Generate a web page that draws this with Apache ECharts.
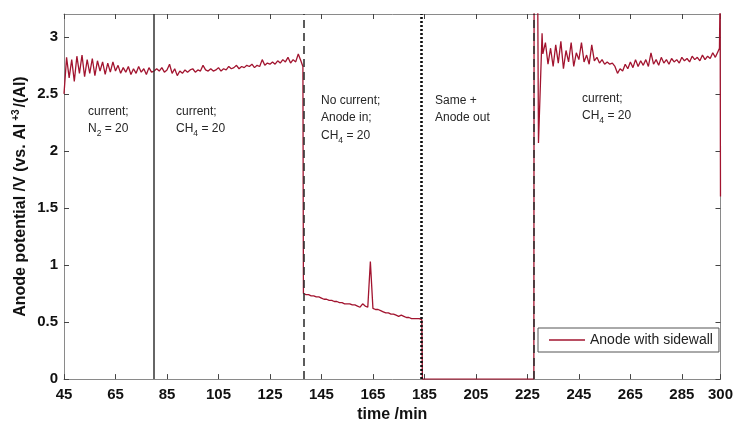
<!DOCTYPE html>
<html>
<head>
<meta charset="utf-8">
<script src="https://cdn.jsdelivr.net/npm/echarts@6/dist/echarts.min.js"></script>
<style>
html,body{margin:0;padding:0;background:#fff;}
#chart{width:736px;height:428px;}
</style>
</head>
<body>
<div id="chart"></div>
<script>
// ---- data ----
const time = [
  45,46,47,48,49,50,51,52,53,54,55,56,57,58,59,60,61,62,63,64,65,66,67,68,69,70,
  71,72,73,74,75,76,77,78,79,80,81,82,83,84,85,86,87,88,89,90,91,92,93,94,95,96,
  97,98,99,100,101,102,103,104,105,106,107,108,109,110,111,112,113,114,115,116,117,
  118,119,120,121,122,123,124,125,126,127,128,129,130,131,132,133,134,135,136,137,137.8,
  138,139,140,141,142,143,144,145,146,147,148,149,150,151,152,153,154,155,156,157,158,
  159,160,161,162,163,164,165,166,167,168,169,170,171,172,173,174,175,176,177,178,179,
  180,181,182,183,184,184.2,227.5,227.6,229.0,229.3,230.7,
  231,232,233,234,235,236,237,238,239,240,241,242,243,244,245,246,247,248,249,250,
  251,252,253,254,255,256,257,258,259,260,261,262,263,264,265,266,267,268,269,270,
  271,272,273,274,275,276,277,278,279,280,281,282,283,284,285,286,287,288,289,290,
  291,292,293,294,295,296,297,298,299,299.6,299.85,300
];
const potential = [
  2.50,2.82,2.64,2.80,2.61,2.83,2.68,2.84,2.65,2.80,2.68,2.81,2.66,2.79,2.70,2.78,2.67,2.77,2.69,2.78,2.70,2.75,2.68,2.73,2.69,2.74,
  2.67,2.72,2.68,2.74,2.69,2.72,2.67,2.73,2.69,2.70,2.72,2.70,2.73,2.69,2.71,2.76,2.68,2.72,2.66,2.70,2.68,2.71,2.69,2.71,2.72,2.69,
  2.71,2.70,2.75,2.71,2.70,2.72,2.70,2.71,2.73,2.70,2.72,2.71,2.74,2.72,2.73,2.75,2.72,2.74,2.73,2.75,2.74,
  2.76,2.73,2.75,2.74,2.80,2.75,2.77,2.76,2.78,2.76,2.79,2.77,2.80,2.78,2.82,2.77,2.80,2.78,2.85,2.79,2.74,
  0.75,0.74,0.74,0.73,0.73,0.72,0.72,0.71,0.70,0.70,0.69,0.69,0.68,0.68,0.67,0.67,0.66,0.66,0.66,0.65,0.65,
  0.64,0.63,0.66,0.64,0.63,1.03,0.62,0.61,0.61,0.60,0.59,0.58,0.58,0.57,0.57,0.56,0.55,0.56,0.55,0.54,0.54,
  0.53,0.53,0.53,0.53,0.52,0,0,3.4,3.4,2.07,3.03,
  2.85,2.95,2.76,2.90,2.74,2.93,2.77,2.96,2.72,2.88,2.78,2.95,2.74,2.86,2.80,2.95,2.78,2.84,2.76,2.93,
  2.79,2.82,2.77,2.80,2.76,2.78,2.76,2.77,2.74,2.68,2.72,2.70,2.76,2.72,2.78,2.73,2.80,2.74,2.79,2.75,
  2.80,2.74,2.86,2.76,2.80,2.75,2.82,2.77,2.80,2.76,2.81,2.78,2.80,2.77,2.82,2.79,2.81,2.78,2.83,2.80,
  2.82,2.79,2.84,2.80,2.83,2.81,2.86,2.82,2.87,2.90,3.4,1.60
];
const seriesName = 'Anode with sidewall';
const xTicks = [45,65,85,105,125,145,165,185,205,225,245,265,285,300];
const yTicks = [0,0.5,1,1.5,2,2.5,3];
const markerTimes = [80, 138.2, 183.6, 227.5];
const markerKinds = ['solid', 'dashed', 'dotted', 'dashed'];

const FONT = 'Liberation Sans, Arial, Helvetica, sans-serif';

const chart = echarts.init(document.getElementById('chart'), null, {renderer: 'canvas'});
const pts = time.map((t, i) => [t, potential[i]]);

const dashStyles = {
  solid: {type: 'solid', width: 1.5, color: '#333'},
  dashed: {type: [8, 5], width: 1.6, color: '#333'},
  dotted: {type: [2.2, 1.8], width: 2.6, color: '#111'}
};

const txt = (x, y, rich) => ({
  type: 'text', x: x, y: y, z: 50,
  style: {
    text: rich, fill: '#262626', fontSize: 12, fontFamily: FONT,
    align: 'left', verticalAlign: 'middle',
    rich: {
      m: {fontSize: 12, fontFamily: FONT, fill: '#262626'},
      s: {fontSize: 8.5, fontFamily: FONT, fill: '#262626', padding: [9, 0, 0, 0]}
    }
  }
});

const option = {
  animation: false,
  backgroundColor: '#fff',
  grid: {left: 64, right: 14, top: 14, bottom: 48, containLabel: false},
  legend: {
    data: [{name: seriesName, icon: 'rect'}], left: 538, top: 328,
    padding: [4, 6, 4, 11], itemWidth: 36, itemHeight: 1.5,
    borderColor: '#555', borderWidth: 1, borderRadius: 0, backgroundColor: '#fff',
    itemStyle: {color: '#A2142F', borderWidth: 0},
    textStyle: {fontSize: 14, color: '#222', fontFamily: FONT, lineHeight: 16}
  },
  xAxis: [{
    type: 'value', min: 45, max: 300, position: 'bottom',
    axisLine: {show: true, onZero: false, lineStyle: {color: '#8a8a8a', width: 1}},
    axisTick: {show: true, inside: true, length: 5, customValues: xTicks, lineStyle: {color: '#444'}},
    axisLabel: {customValues: xTicks, fontSize: 15, fontWeight: 'bold', color: '#111', fontFamily: FONT, margin: 8},
    splitLine: {show: false},
    name: 'time /min', nameLocation: 'middle', nameGap: 27,
    nameTextStyle: {fontSize: 16, fontWeight: 'bold', color: '#111', fontFamily: FONT}
  }, {
    type: 'value', min: 45, max: 300, position: 'top',
    axisLine: {show: true, onZero: false, lineStyle: {color: '#8a8a8a', width: 1}},
    axisTick: {show: true, inside: true, length: 5, customValues: xTicks, lineStyle: {color: '#444'}},
    axisLabel: {show: false}, splitLine: {show: false}
  }],
  yAxis: [{
    type: 'value', min: 0, max: 3.2, position: 'left',
    axisLine: {show: true, onZero: false, lineStyle: {color: '#8a8a8a', width: 1}},
    axisTick: {show: true, inside: true, length: 5, customValues: yTicks, lineStyle: {color: '#444'}},
    axisLabel: {customValues: yTicks, fontSize: 15, fontWeight: 'bold', color: '#111', fontFamily: FONT, margin: 6},
    splitLine: {show: false},
    name: '{a|Anode potential /V (vs. Al}{p|+3}{a|/(Al)}', nameLocation: 'middle', nameGap: 34,
    nameMoveOverlap: false,
    nameTextStyle: {
      fontSize: 16, fontWeight: 'bold', color: '#111', fontFamily: FONT,
      rich: {
        a: {fontSize: 16, fontWeight: 'bold', color: '#111', fontFamily: FONT},
        p: {fontSize: 10, fontWeight: 'bold', color: '#111', fontFamily: FONT, padding: [0, 2, 9, 3]}
      }
    }
  }, {
    type: 'value', min: 0, max: 3.2, position: 'right',
    axisLine: {show: true, onZero: false, lineStyle: {color: '#8a8a8a', width: 1}},
    axisTick: {show: true, inside: true, length: 5, customValues: yTicks, lineStyle: {color: '#444'}},
    axisLabel: {show: false}, splitLine: {show: false}
  }],
  series: [{
    name: seriesName, type: 'line', data: pts, symbol: 'none', showSymbol: false,
    clip: true, z: 3,
    lineStyle: {color: '#A2142F', width: 1.3},
    itemStyle: {color: '#A2142F'},
    markLine: {
      silent: true, symbol: ['none', 'none'], z: 5,
      label: {show: false},
      emphasis: {disabled: true},
      data: markerTimes.map((t, i) => ({xAxis: t, lineStyle: dashStyles[markerKinds[i]]}))
    }
  }],
  graphic: [
    txt(88, 112, '{m|current;}'),
    txt(88, 129, '{m|N}{s|2}{m| = 20}'),
    txt(176, 112, '{m|current;}'),
    txt(176, 129, '{m|CH}{s|4}{m| = 20}'),
    txt(321, 101, '{m|No current;}'),
    txt(321, 118, '{m|Anode in;}'),
    txt(321, 136, '{m|CH}{s|4}{m| = 20}'),
    txt(435, 101, '{m|Same +}'),
    txt(435, 118, '{m|Anode out}'),
    txt(582, 99, '{m|current;}'),
    txt(582, 116, '{m|CH}{s|4}{m| = 20}')
  ]
};
chart.setOption(option);
</script>
</body>
</html>
